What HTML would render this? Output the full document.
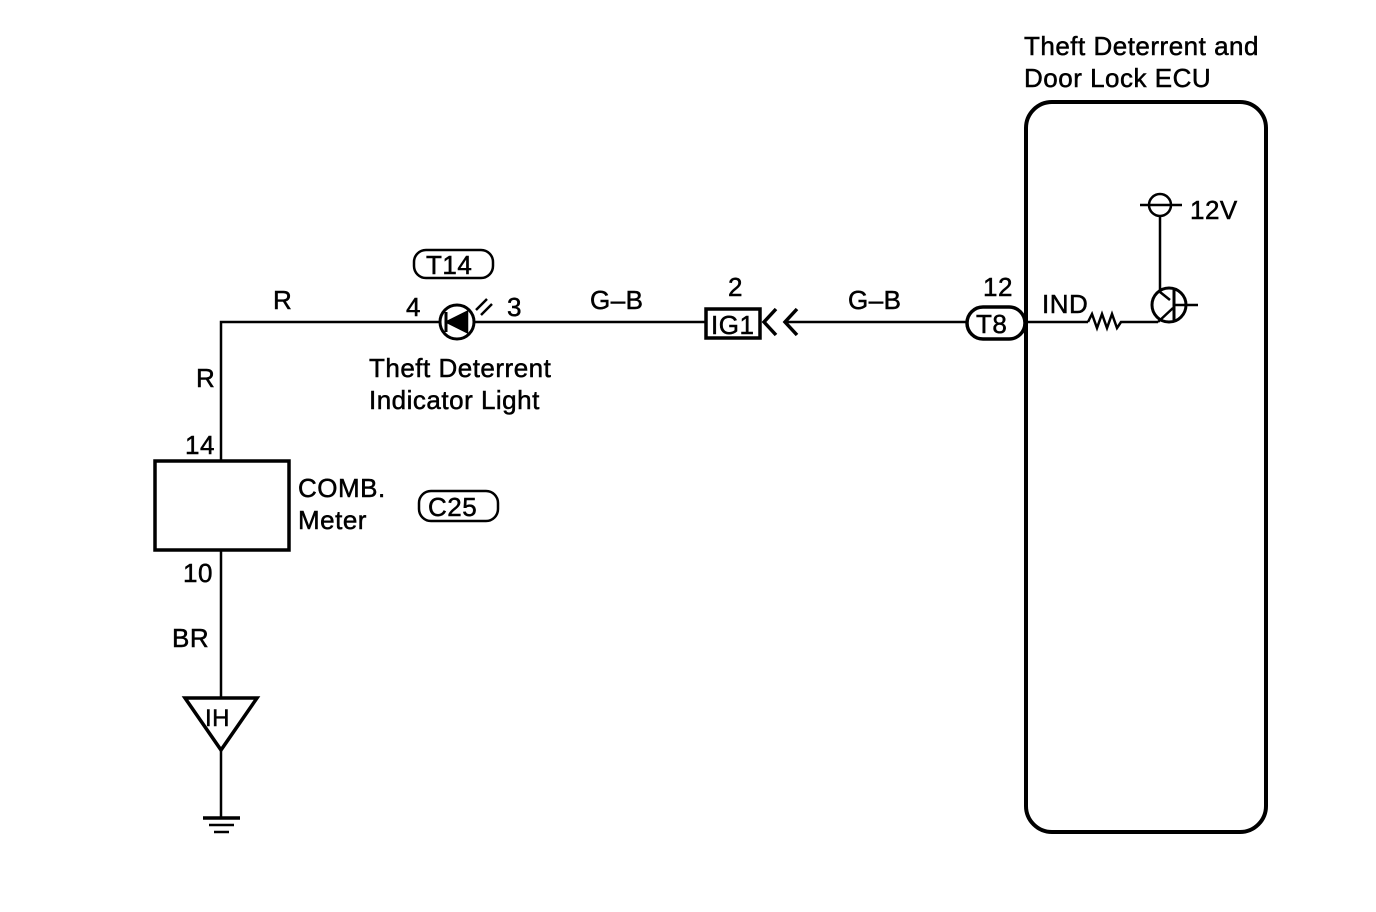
<!DOCTYPE html>
<html><head><meta charset="utf-8"><style>
html,body{margin:0;padding:0;background:#fff;}
svg{display:block;}
text{font-family:"Liberation Sans",sans-serif;fill:#000;stroke:#000;stroke-width:0.5;letter-spacing:0.5px;}
</style></head><body>
<svg width="1376" height="912" viewBox="0 0 1376 912" xmlns="http://www.w3.org/2000/svg">
<g stroke="#000" fill="none" stroke-width="2.5">
  <polyline points="221,460 221,322 440,322"/>
  <line x1="475" y1="322" x2="706" y2="322"/>
  <line x1="221" y1="550" x2="221" y2="698"/>
  <line x1="221" y1="750" x2="221" y2="818"/>
  <rect x="155" y="461" width="134" height="89" stroke-width="3.5"/>
  <circle cx="457" cy="322" r="17" stroke-width="3"/>
  <polygon points="447,322 467,312 467,332" fill="#000"/>
  <line x1="446" y1="312" x2="446" y2="332" stroke-width="3"/>
  <line x1="476" y1="310" x2="487" y2="299"/>
  <line x1="481" y1="315" x2="492" y2="304"/>
  <rect x="706" y="309" width="54" height="29" stroke-width="3.5"/>
  <polyline points="776,309 764,322 776,335" stroke-width="3.5"/>
  <polyline points="797,309 785,322 797,335" stroke-width="3.5"/>
  <line x1="785" y1="322" x2="968" y2="322"/>
  <rect x="967" y="307" width="58" height="32" rx="16" stroke-width="3.5"/>
  <rect x="1026" y="102" width="240" height="730" rx="26" stroke-width="4"/>
  <line x1="1028" y1="322" x2="1088" y2="322"/>
  <polyline points="1088,322 1092,314 1097,328 1102,314 1107,328 1112,314 1117,328 1121,322 1158,322"/>
  <circle cx="1169" cy="305" r="17" stroke-width="3"/>
  <line x1="1160" y1="217" x2="1160" y2="292"/>
  <line x1="1160" y1="292" x2="1170" y2="300"/>
  <line x1="1158" y1="322" x2="1173" y2="308"/>
  <line x1="1174" y1="290" x2="1174" y2="320" stroke-width="3"/>
  <line x1="1174" y1="305" x2="1198" y2="305"/>
  <circle cx="1160" cy="205" r="11"/>
  <line x1="1140" y1="205" x2="1182" y2="205"/>
  <rect x="414" y="250" width="79" height="28" rx="12"/>
  <rect x="419" y="491" width="79" height="30" rx="12"/>
  <polygon points="185,698 257,698 221,750" stroke-width="3.5"/>
  <line x1="203" y1="818" x2="240" y2="818" stroke-width="3.5"/>
  <line x1="209" y1="825" x2="234" y2="825"/>
  <line x1="214" y1="832" x2="229" y2="832"/>
</g>
<g font-size="26">
  <text x="1024" y="55">Theft Deterrent and</text>
  <text x="1024" y="87">Door Lock ECU</text>
  <text x="1190" y="219">12V</text>
  <text x="983" y="296">12</text>
  <text x="976" y="333">T8</text>
  <text x="1042" y="313">IND</text>
  <text x="848" y="309">G–B</text>
  <text x="590" y="309">G–B</text>
  <text x="728" y="296">2</text>
  <text x="711" y="334">IG1</text>
  <text x="406" y="316">4</text>
  <text x="507" y="316">3</text>
  <text x="426" y="274">T14</text>
  <text x="273" y="309">R</text>
  <text x="196" y="387">R</text>
  <text x="369" y="377">Theft Deterrent</text>
  <text x="369" y="409">Indicator Light</text>
  <text x="185" y="454">14</text>
  <text x="298" y="497">COMB.</text>
  <text x="298" y="529">Meter</text>
  <text x="428" y="516">C25</text>
  <text x="183" y="582">10</text>
  <text x="172" y="647">BR</text>
  <text x="205" y="726" font-size="24">IH</text>
</g>
</svg>
</body></html>
